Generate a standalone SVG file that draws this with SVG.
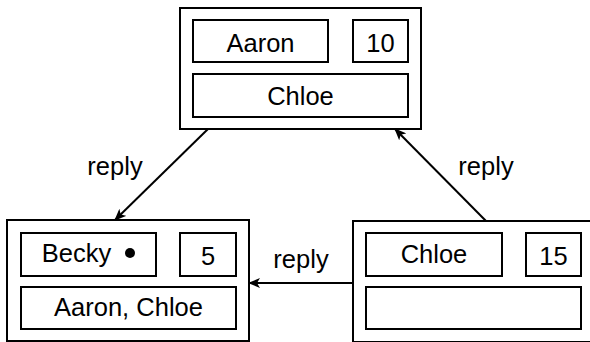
<svg xmlns="http://www.w3.org/2000/svg" width="590" height="342" viewBox="0 0 590 342">
  <style>
    .outer { fill: #fff; stroke: #000; stroke-width: 2; }
    .cell { fill: #fff; stroke: #000; stroke-width: 2; }
    .t { font-family: "Liberation Sans", Arial, sans-serif; font-size: 25.5px; fill: #000; text-anchor: middle; }
    .edge { stroke: #000; stroke-width: 2; fill: none; marker-end: url(#arrow); }
  </style>
  <defs>
    <marker id="arrow" viewBox="0 0 12 10" refX="11" refY="5" markerWidth="12" markerHeight="10" markerUnits="userSpaceOnUse" orient="auto">
      <path d="M0,0 L12,5 L0,10 L3,5 Z" fill="#000"/>
    </marker>
  </defs>

  <g id="node-aaron">
    <rect class="outer" x="180" y="8" width="241" height="121"/>
    <rect class="cell" x="193" y="20" width="135" height="42"/>
    <text class="t" x="260.5" y="52">Aaron</text>
    <rect class="cell" x="353" y="20" width="55" height="42"/>
    <text class="t" x="380.5" y="52">10</text>
    <rect class="cell" x="193" y="74" width="215" height="43"/>
    <text class="t" x="300.5" y="105">Chloe</text>
  </g>

  <g id="node-becky">
    <rect class="outer" x="7" y="220" width="242" height="121"/>
    <rect class="cell" x="21" y="233" width="135" height="43"/>
    <text class="t" x="76.5" y="262">Becky</text>
    <circle cx="130" cy="253" r="5" fill="#000"/>
    <rect class="cell" x="180" y="233" width="56" height="43"/>
    <text class="t" x="208" y="265">5</text>
    <rect class="cell" x="21" y="287" width="215" height="42"/>
    <text class="t" x="128.5" y="316">Aaron, Chloe</text>
  </g>

  <g id="node-chloe">
    <rect class="outer" x="353" y="221" width="242" height="121"/>
    <rect class="cell" x="366" y="233" width="136" height="43"/>
    <text class="t" x="434" y="263">Chloe</text>
    <rect class="cell" x="526" y="233" width="55" height="43"/>
    <text class="t" x="553.5" y="265">15</text>
    <rect class="cell" x="366" y="287" width="215" height="42"/>
  </g>

  <g id="connectors">
    <line class="edge" x1="208" y1="129" x2="115" y2="220"/>
    <text class="t" x="115" y="175">reply</text>
    <line class="edge" x1="486" y1="221" x2="395" y2="129"/>
    <text class="t" x="486" y="175">reply</text>
    <line class="edge" x1="353" y1="283" x2="249" y2="283"/>
    <text class="t" x="301" y="268">reply</text>
  </g>
</svg>
